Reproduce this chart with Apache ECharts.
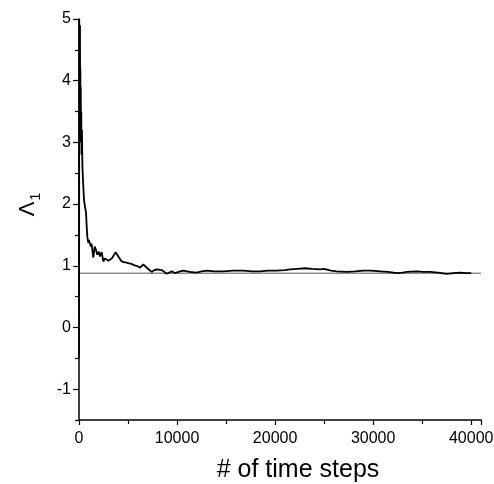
<!DOCTYPE html>
<html>
<head>
<meta charset="utf-8">
<script src="https://cdn.jsdelivr.net/npm/echarts@6/dist/echarts.min.js"></script>
<style>
    html, body { margin: 0; padding: 0; background: #fff; }
    #chart { width: 494px; height: 484px; }
</style>
</head>
<body>
<div id="chart"></div>
<script>
    // time steps and the estimate of Lambda_1
    const steps = [0, 15, 25, 45, 60, 80, 100, 120, 140, 160, 180, 200, 230, 260, 300, 350, 420, 510, 620, 714,
        780, 850, 950, 1020, 1120, 1200, 1280, 1360, 1460, 1600, 1730, 1870, 2010, 2140, 2310, 2480, 2650, 2820,
        3000, 3160, 3350, 3500, 3740, 4010, 4350, 4600, 4860, 5100, 5370, 5600, 5880, 6220, 6560, 6970, 7410,
        7700, 7920, 8440, 8950, 9460, 9800, 10300, 10640, 11300, 12000, 12500, 13030, 13800, 14730, 15700, 16770,
        17600, 18470, 19300, 20170, 21000, 21530, 22300, 23060, 23800, 24590, 25000, 25700, 26290, 27320, 28200,
        29010, 29800, 30710, 31500, 32420, 33000, 33440, 34460, 35100, 35820, 36600, 37520, 38200, 38880, 39500, 40000]
    const lambda1 = [-0.5, 1.5, 5.0, 3.2, 4.7, 3.6, 4.9, 3.4, 4.2, 3.1, 3.9, 3.0, 3.5, 2.8, 3.2, 2.6, 2.35, 2.07, 1.95, 1.86,
        1.65, 1.47, 1.37, 1.42, 1.45, 1.31, 1.36, 1.39, 1.13, 1.31, 1.26, 1.18, 1.23, 1.15, 1.22, 1.07, 1.12, 1.10,
        1.08, 1.09, 1.12, 1.15, 1.22, 1.15, 1.07, 1.06, 1.05, 1.04, 1.03, 1.01, 1.00, 0.97, 1.02, 0.96, 0.90,
        0.93, 0.94, 0.93, 0.87, 0.91, 0.88, 0.91, 0.92, 0.90, 0.89, 0.91, 0.92, 0.91, 0.91, 0.92, 0.92,
        0.91, 0.91, 0.92, 0.92, 0.93, 0.94, 0.95, 0.96, 0.95, 0.94, 0.95, 0.92, 0.91, 0.90, 0.91,
        0.92, 0.92, 0.91, 0.90, 0.88, 0.89, 0.90, 0.91, 0.90, 0.90, 0.89, 0.87, 0.88, 0.89, 0.88, 0.88]
    const refSteps = [0, 41000]
    const refValue = [0.88, 0.88]
    const yLabels = [-1, 0, 1, 2, 3, 4, 5]
    const yHalfTicks = [-1.5, -0.5, 0.5, 1.5, 2.5, 3.5, 4.5]

    const font = 'Liberation Sans, Arial, sans-serif'
    const chartInstance = echarts.init(document.getElementById('chart'))

    const baseY = {
        type: 'value',
        position: 'left',
        min: -1.5,
        max: 5,
        interval: 0.5,
        splitLine: { show: false }
    }

    const option = {
        animation: false,
        grid: { left: 79, right: 13, top: 19, bottom: 64, outerBoundsMode: 'none' },
        xAxis: {
            type: 'value',
            min: 0,
            max: 41000,
            interval: 10000,
            name: '# of time steps',
            nameLocation: 'middle',
            nameGap: 38,
            nameTextStyle: { fontSize: 25, color: '#000', fontFamily: font, padding: [0, 0, 0, 36] },
            axisLine: { onZero: false, lineStyle: { color: '#000', width: 1.5 } },
            axisTick: { length: 5, lineStyle: { color: '#000', width: 1.2 } },
            minorTick: { show: true, splitNumber: 2, length: 4, lineStyle: { color: '#000', width: 1.2 } },
            axisLabel: { fontSize: 16, color: '#000', fontFamily: font, margin: 11, formatter: v => String(v) },
            splitLine: { show: false }
        },
        yAxis: [
            Object.assign({}, baseY, {
                name: '{l|Λ}{s|1}',
                nameLocation: 'middle',
                nameRotate: 90,
                nameGap: 40,
                nameTextStyle: {
                    color: '#000', fontFamily: font, padding: [0, 0, 0, 30],
                    rich: {
                        l: { fontSize: 22, fontFamily: font, color: '#000', verticalAlign: 'bottom' },
                        s: { fontSize: 14, fontFamily: font, color: '#000', verticalAlign: 'bottom', padding: [0, 0, -4, 1] }
                    }
                },
                axisLine: { show: true, onZero: false, lineStyle: { color: '#000', width: 1.5 } },
                axisTick: { customValues: yLabels, length: 6, lineStyle: { color: '#000', width: 1.2 } },
                axisLabel: { customValues: yLabels, fontSize: 16, color: '#000', fontFamily: font, margin: 8 }
            }),
            Object.assign({}, baseY, {
                axisLine: { show: false, onZero: false },
                axisTick: { customValues: yHalfTicks, length: 4, lineStyle: { color: '#000', width: 1.2 } },
                axisLabel: { show: false }
            })
        ],
        series: [
            {
                type: 'line',
                data: refSteps.map((s, i) => [s, refValue[i]]),
                symbol: 'none',
                silent: true,
                lineStyle: { color: '#555', width: 1 }
            },
            {
                type: 'line',
                data: steps.map((s, i) => [s, lambda1[i]]),
                symbol: 'none',
                lineStyle: { color: '#000', width: 1.8 }
            }
        ]
    }
    chartInstance.setOption(option)
</script>
</body>
</html>
